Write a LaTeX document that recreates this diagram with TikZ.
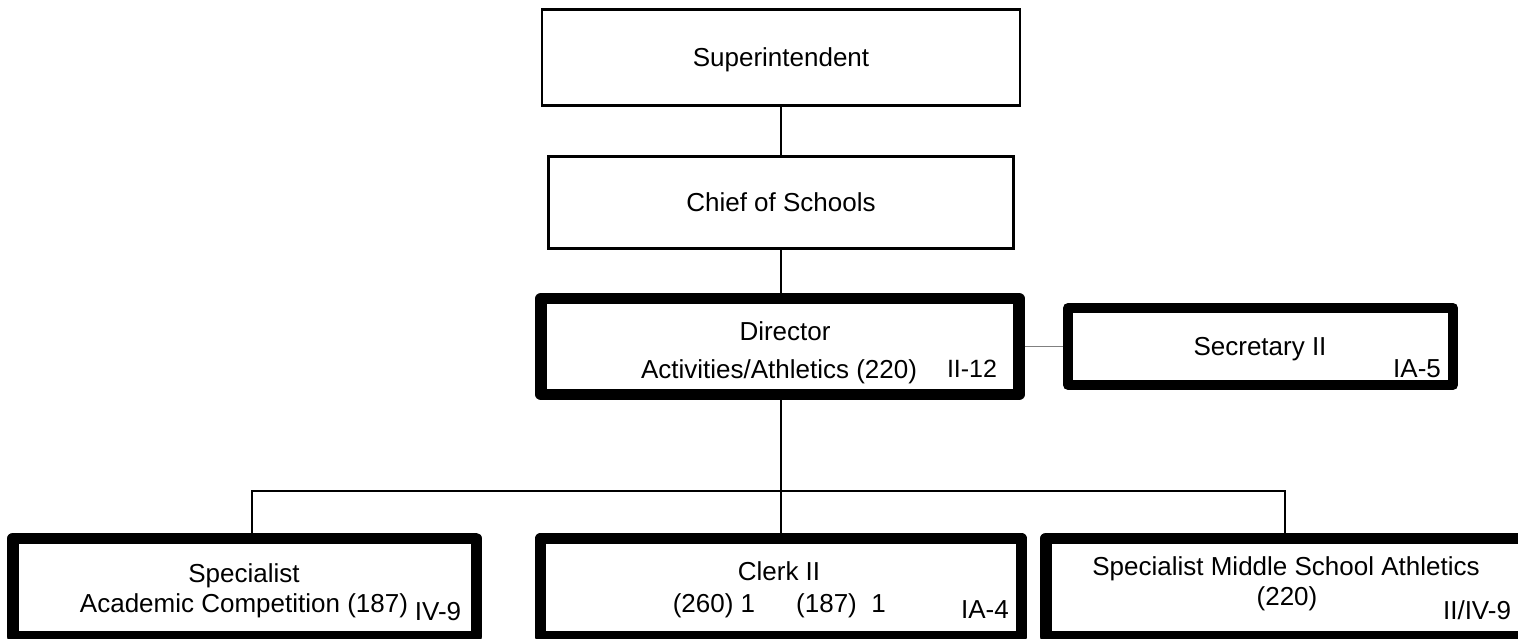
\documentclass[tikz,border=0pt]{standalone}
\usepackage{fontspec}
\setmainfont{Liberation Sans}
\begin{document}
\begin{tikzpicture}[x=0.5pt,y=-0.5pt,
  box/.style={draw=black,line width=1.4pt,rectangle,inner sep=0pt,line join=miter},
  thickbox/.style={draw=black,line width=5.75pt,rectangle,inner sep=0pt,line join=round},
  conn/.style={draw=black,line width=1pt},
  txt/.style={anchor=base,inner sep=0pt,font=\fontsize{13}{15}\selectfont},
  small/.style={anchor=base,inner sep=0pt,font=\fontsize{12.5}{15}\selectfont}]
\useasboundingbox (0,0) rectangle (1518,638);
\begin{scope}
\clip (0,0) rectangle (1518,638);
% boxes
\node[box,minimum width=239pt,minimum height=48pt] (sup) at (781,57.5) {};
\node[box,minimum width=232.5pt,minimum height=46pt] (chief) at (781,202.5) {};
\node[thickbox,minimum width=239pt,minimum height=48pt] (dir) at (780,346.5) {};
\node[thickbox,line width=5pt,minimum width=192.5pt,minimum height=38.5pt] (sec) at (1260.5,346.5) {};
\node[thickbox,minimum width=231.75pt,minimum height=49pt] (b1) at (244.5,587.5) {};
\node[thickbox,minimum width=240.5pt,minimum height=49pt] (b2) at (781,587.5) {};
\node[thickbox,minimum width=240.5pt,minimum height=49pt] (b3) at (1286.25,587.5) {};
% connectors
\coordinate (bus) at (781,491);
\coordinate (busl) at (252,491);
\coordinate (busr) at (1285,491);
\draw[conn] (sup.south -| bus) -- (chief.north -| bus);
\draw[conn] (chief.south -| bus) -- (dir.north -| bus);
\draw[conn] (dir.south -| bus) -- (bus);
\draw[conn] (busl |- b1.north) -- (busl) -- (busr) -- (busr |- b3.north);
\draw[conn] (bus) -- (bus |- b2.north);
\draw[draw=gray,line width=0.6pt] (dir.east) -- (sec.west);
\end{scope}
% texts
\node[txt] (tsup) at (781,66) {Superintendent};
\node[txt] (tchief) at (781,211) {Chief of Schools};
\node[txt] (tdir1) at (785,340) {Director};
\node[txt] (tdir2) at (779,378) {Activities/Athletics (220)};
\node[small] (tdir3) at (972,377) {II-12};
\node[txt] (tsec1) at (1260,355) {Secretary II};
\node[txt] (tsec2) at (1417,377) {IA-5};
\node[txt] (tb11) at (244,582) {Specialist};
\node[txt] (tb12) at (244,612) {Academic Competition (187)};
\node[txt] (tb13) at (438,620) {IV-9};
\node[txt] (tb21) at (779,580) {Clerk II};
\node[txt] (tb22) at (714,612) {(260) 1};
\node[txt] (tb23) at (841,612) {(187)\ \ 1};
\node[txt] (tb24) at (985,618) {IA-4};
\node[txt] (tb31) at (1286,575) {Specialist Middle School Athletics};
\node[txt] (tb32) at (1287,605) {(220)};
\node[txt] (tb33) at (1477,619) {II/IV-9};
\end{tikzpicture}
\end{document}
